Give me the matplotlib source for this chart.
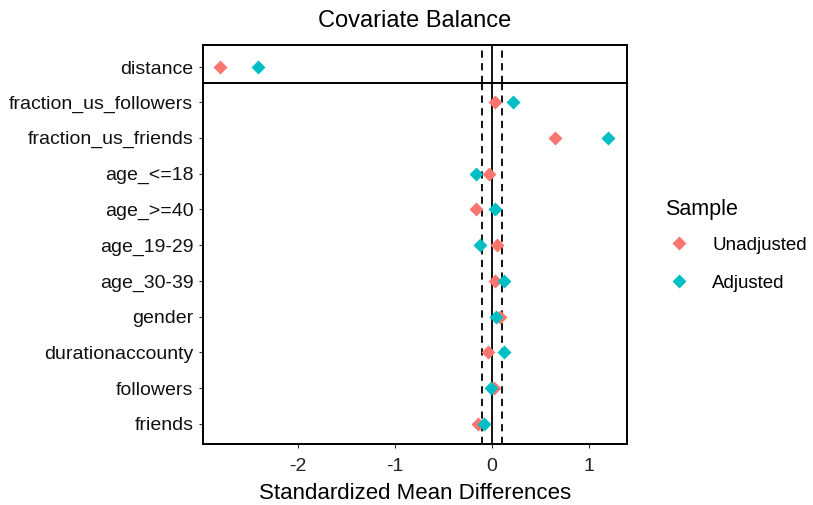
import numpy as np
import matplotlib.pyplot as plt
from matplotlib.lines import Line2D

plt.rcParams['font.family'] = ['Liberation Sans', 'DejaVu Sans']

# top facet
top_vars = ["distance"]
top_unadj = [-2.80]
top_adj = [-2.41]

# bottom facet (top to bottom)
covars = ["fraction_us_followers", "fraction_us_friends", "age_<=18", "age_>=40",
          "age_19-29", "age_30-39", "gender", "durationaccounty", "followers", "friends"]
unadj = [0.03, 0.65, -0.03, -0.17, 0.05, 0.03, 0.08, -0.04, 0.02, -0.15]
adj = [0.215, 1.19, -0.17, 0.03, -0.12, 0.12, 0.035, 0.12, -0.01, -0.08]

RED = "#F8766D"
TEAL = "#00BFC4"
thr = 0.1

fig = plt.figure(figsize=(8.13, 5.05), dpi=100, facecolor="white")
L, R = 203/813, 627/813
y_top, y_mid, y_bot = 1-45/505, 1-83/505, 1-444/505
ax1 = fig.add_axes([L, y_mid, R-L, y_top-y_mid])
ax2 = fig.add_axes([L, y_bot, R-L, y_mid-y_bot], sharex=ax1)

def panel(ax, names, u, a):
	pos = np.arange(len(names))[::-1]
	for x in (-thr, thr):
		ax.axvline(x, color="black", lw=1.3, ls=(0, (4, 3)), zorder=1)
	ax.axvline(0, color="black", lw=1.3, zorder=1)
	ax.plot(u, pos, ls="none", marker="D", ms=7, color=RED, mec="none", zorder=3)
	ax.plot(a, pos, ls="none", marker="D", ms=7, color=TEAL, mec="none", zorder=4)
	ax.set_yticks(pos)
	ax.set_yticklabels(names, fontsize=14, color="#111111")
	ax.set_ylim(-0.56, len(names)-1+0.53)
	for s in ax.spines.values():
		s.set_linewidth(1.4)
	ax.tick_params(axis="both", length=3, width=0.8, color="#333333", pad=4)

panel(ax1, top_vars, top_unadj, top_adj)
panel(ax2, covars, unadj, adj)
ax1.set_ylim(-0.5, 0.7)
ax1.tick_params(axis="x", bottom=False, labelbottom=False)

ax2.set_xlim(-2.98, 1.39)
ax2.set_xticks([-2, -1, 0, 1])
ax2.set_xticklabels(["-2", "-1", "0", "1"], fontsize=14, color="#222222")
ax2.tick_params(axis="x", pad=7)
ax2.set_xlabel("Standardized Mean Differences", fontsize=16, labelpad=6)
ax1.set_title("Covariate Balance", fontsize=17, pad=13)

handles = [Line2D([], [], ls="none", marker="D", ms=7, color=RED, mec="none"),
           Line2D([], [], ls="none", marker="D", ms=7, color=TEAL, mec="none")]
leg = fig.legend(handles, ["Unadjusted", "Adjusted"], title="Sample",
                 loc="upper left", bbox_to_anchor=(652/813, 1-186/505),
                 frameon=False, fontsize=13.5, title_fontsize=15.5,
                 labelspacing=1.1, handletextpad=1.0, handlelength=1.5,
                 borderpad=0.2)
leg._legend_box.align = "left"
leg._legend_box.sep = 12

fig.savefig("out.png", dpi=100, facecolor="white")
